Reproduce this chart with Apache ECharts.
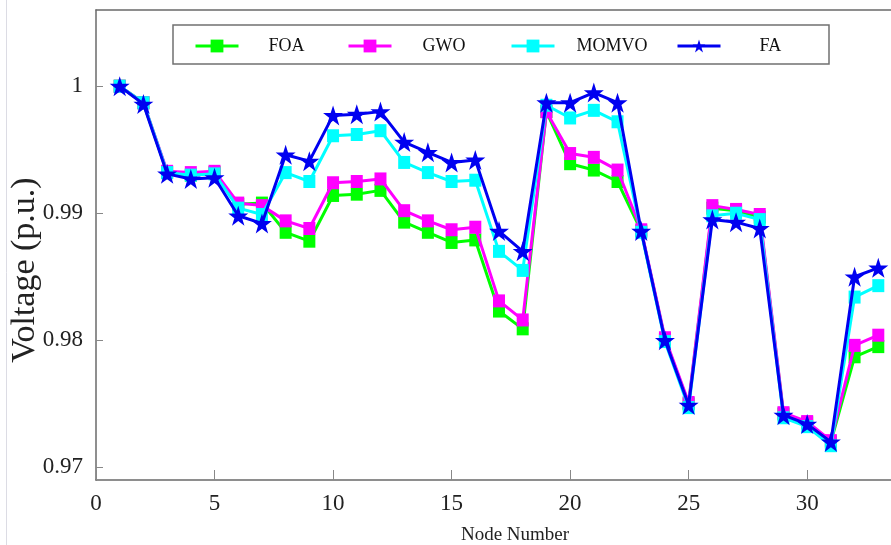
<!DOCTYPE html>
<html>
<head>
<meta charset="utf-8">
<script src="https://cdn.jsdelivr.net/npm/echarts@6/dist/echarts.min.js"></script>
<style>
  html, body { margin: 0; padding: 0; background: #fff; }
  #chart { width: 891px; height: 545px; }
</style>
</head>
<body>
<div id="chart"></div>
<script>
// Bus voltage profile per node for four optimisation algorithms
const nodes = [1,2,3,4,5,6,7,8,9,10,11,12,13,14,15,16,17,18,19,20,21,22,23,24,25,26,27,28,29,30,31,32,33];

const foa = [1.0000,0.9987,0.9932,0.9930,0.9932,0.9907,0.9908,0.9885,0.9878,0.9914,0.9915,0.9918,0.9893,0.9885,0.9877,0.9879,0.9823,0.9809,0.9980,0.9939,0.9934,0.9925,0.9886,0.9801,0.9750,0.9904,0.9902,0.9897,0.9742,0.9735,0.9720,0.9787,0.9795];
const gwo = [1.0000,0.9987,0.9933,0.9932,0.9933,0.9908,0.9906,0.9894,0.9888,0.9924,0.9925,0.9927,0.9902,0.9894,0.9887,0.9889,0.9831,0.9816,0.9980,0.9947,0.9944,0.9934,0.9887,0.9802,0.9751,0.9906,0.9903,0.9899,0.9743,0.9736,0.9721,0.9796,0.9804];
const momvo = [1.0000,0.9987,0.9932,0.9930,0.9931,0.9904,0.9899,0.9932,0.9925,0.9961,0.9962,0.9965,0.9940,0.9932,0.9925,0.9926,0.9870,0.9855,0.9985,0.9975,0.9981,0.9972,0.9885,0.9799,0.9747,0.9898,0.9900,0.9895,0.9739,0.9732,0.9717,0.9834,0.9843];
const fa = [1.0000,0.9986,0.9931,0.9927,0.9928,0.9898,0.9892,0.9946,0.9941,0.9977,0.9978,0.9980,0.9956,0.9948,0.9940,0.9942,0.9886,0.9870,0.9987,0.9987,0.9995,0.9987,0.9886,0.9800,0.9749,0.9895,0.9893,0.9888,0.9741,0.9734,0.9720,0.9850,0.9857];

const yTicks = [0.97, 0.98, 0.99, 1];

const FONT = '"Liberation Serif", "DejaVu Serif", serif';
const STAR = 'path://M50,0 L61.8,35.5 L99,35.5 L69,57.5 L80.5,93 L50,71 L19.5,93 L31,57.5 L1,35.5 L38.2,35.5 Z';

function pairs(vals) { return nodes.map((n, i) => [n, vals[i]]); }

function lineSeries(name, vals, color, symbol, size, z) {
  return {
    name: name,
    type: 'line',
    data: pairs(vals),
    symbol: symbol,
    symbolSize: size,
    showAllSymbol: true,
    z: z,
    lineStyle: { color: color, width: 3 },
    itemStyle: { color: color, borderWidth: 0 },
    emphasis: { disabled: true },
    animation: false
  };
}

function legendItem(name, left, pad) {
  return {
    data: [name],
    left: left,
    top: 32,
    itemWidth: 43,
    itemHeight: 16,
    selectedMode: false,
    lineStyle: { width: 3 },
    textStyle: { fontFamily: FONT, fontSize: 18, color: '#111', padding: [0, 0, 0, pad] }
  };
}

const chart = echarts.init(document.getElementById('chart'), null, { renderer: 'canvas' });

chart.setOption({
  backgroundColor: '#fff',
  animation: false,
  grid: { left: 96, right: -11, top: 10, bottom: 65, containLabel: false, outerBoundsMode: 'none' },
  legend: [
    legendItem('FOA', 189, 25),
    legendItem('GWO', 342, 26),
    legendItem('MOMVO', 505, 17),
    legendItem('FA', 671, 34)
  ],
  xAxis: [{
    type: 'value',
    min: 0,
    max: 34,
    interval: 5,
    name: 'Node Number',
    nameLocation: 'middle',
    nameGap: 46,
    nameTextStyle: { fontFamily: FONT, fontSize: 19, color: '#222', padding: [0, 0, 0, 32] },
    axisLine: { onZero: false, lineStyle: { color: '#6a6a6a', width: 1.5 } },
    axisTick: { inside: true, length: 10, lineStyle: { color: '#888', width: 1 } },
    axisLabel: { fontFamily: FONT, fontSize: 23, color: '#222', margin: 12, showMaxLabel: false },
    splitLine: { show: false }
  }, {
    type: 'value',
    position: 'top',
    min: 0,
    max: 34,
    axisLine: { show: true, onZero: false, lineStyle: { color: '#6a6a6a', width: 1.5 } },
    axisTick: { show: false },
    axisLabel: { show: false },
    splitLine: { show: false }
  }],
  yAxis: {
    type: 'value',
    min: 0.969,
    max: 1.006,
    axisLine: { show: true, onZero: false, lineStyle: { color: '#6a6a6a', width: 1.5 } },
    axisTick: { inside: true, length: 7, customValues: yTicks, lineStyle: { color: '#888', width: 1 } },
    axisLabel: {
      customValues: yTicks,
      fontFamily: FONT, fontSize: 23, color: '#222', margin: 13,
      formatter: v => (v === 1 ? '1' : v.toFixed(2))
    },
    splitLine: { show: false }
  },
  graphic: [
    { type: 'line', shape: { x1: 6.5, y1: 0, x2: 6.5, y2: 545 }, style: { stroke: '#dcdce4', lineWidth: 1 }, silent: true },
    { type: 'rect', shape: { x: 173, y: 25, width: 656, height: 39 }, style: { fill: 'none', stroke: '#707070', lineWidth: 1.5 }, silent: true, z: -1 },
    {
      type: 'text', x: 25, y: 270, rotation: Math.PI / 2, silent: true,
      style: { text: 'Voltage (p.u.)', font: '34px ' + FONT, fill: '#222', textAlign: 'center', textVerticalAlign: 'middle' }
    }
  ],
  series: [
    lineSeries('FOA', foa, '#00ff00', 'rect', [12, 13], 2),
    lineSeries('GWO', gwo, '#ff00ff', 'rect', [12, 13], 3),
    lineSeries('MOMVO', momvo, '#00ffff', 'rect', [12, 13], 4),
    lineSeries('FA', fa, '#0000f0', STAR, 20, 5)
  ]
});
</script>
</body>
</html>
